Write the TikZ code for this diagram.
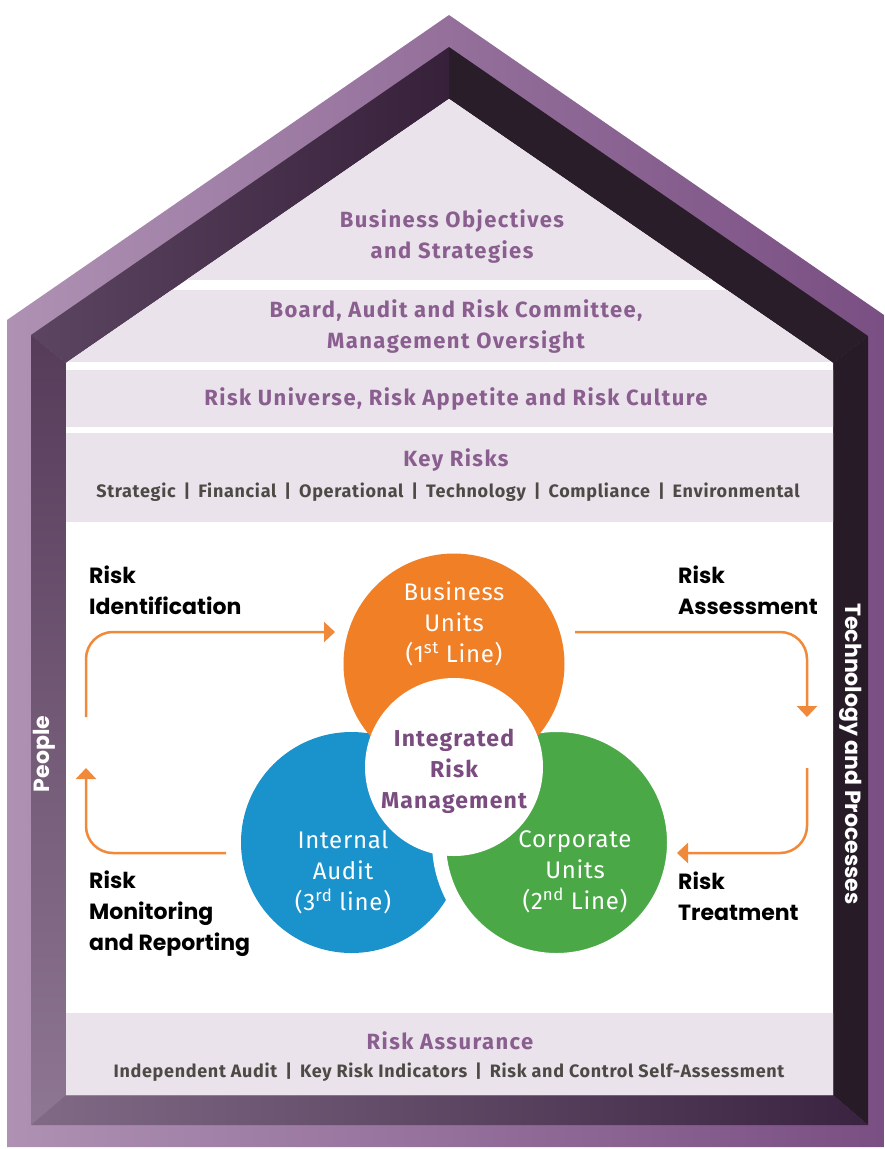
\documentclass[tikz,border=0pt]{standalone}
\usepackage{fontspec}
\setmainfont{Fira Sans}
\newfontfamily\hdrfont{Fira Sans}[LetterSpace=6.5]
\newfontfamily\itemfont{Fira Sans}[LetterSpace=3.8]
\newfontfamily\irmfont{Fira Sans}[LetterSpace=5]
\newfontfamily\unitfont{Fira Sans}[LetterSpace=3]
\newfontfamily\popfont{Poppins}
\usepackage{xcolor}
\usepackage{tikz}
\usetikzlibrary{arrows.meta}
\usetikzlibrary{calc}

\definecolor{bandlight}{HTML}{AE91B3}
\definecolor{banddark}{HTML}{7A4F83}
\definecolor{roofleftA}{HTML}{5C4560}
\definecolor{roofleftB}{HTML}{36203A}
\definecolor{roofright}{HTML}{2A1D2A}
\definecolor{wallleftA}{HTML}{573C5A}
\definecolor{wallleftB}{HTML}{8E7793}
\definecolor{wallright}{HTML}{261B27}
\definecolor{baseleft}{HTML}{806A86}
\definecolor{basemid}{HTML}{5E3E64}
\definecolor{baseright}{HTML}{3A2340}
\definecolor{panelbg}{HTML}{EAE3EC}
\definecolor{hdrtext}{HTML}{8A5F8F}
\definecolor{irmtext}{HTML}{7B4C80}
\definecolor{itemtext}{HTML}{4D4A45}
\definecolor{buorange}{HTML}{F07F26}
\definecolor{iablue}{HTML}{1A92CB}
\definecolor{cugreen}{HTML}{4BA847}
\definecolor{flowc}{HTML}{F1893A}

\begin{document}
\begin{tikzpicture}[x=1pt,y=-1pt,
    panel/.style={fill=panelbg},
    hdr/.style={text=hdrtext, align=center, font=\hdrfont\fontsize{22}{31}\selectfont\bfseries},
    items/.style={text=itemtext, font=\itemfont\fontsize{18}{20}\selectfont\bfseries},
    stage/.style={anchor=west, align=left, inner sep=0pt, text=black, font=\popfont\fontsize{22}{31}\selectfont\bfseries},
    unit/.style={circle, inner sep=0pt, outer sep=0pt, minimum size=221pt},
    unittext/.style={text=white, align=center, font=\unitfont\fontsize{24}{31}\selectfont},
    side/.style={text=white, font=\popfont\fontsize{22}{24}\selectfont\bfseries},
    flow/.style={draw=flowc, line width=2.5pt, rounded corners=27pt, -{Triangle[length=11pt,width=20pt]}}]
    \useasboundingbox (0,0) rectangle (884,1149);
    % house frame
    \coordinate (O1) at (7,1147);
    \coordinate (O2) at (7,320);
    \coordinate (O3) at (449,15);
    \coordinate (O4) at (884,315);
    \coordinate (O5) at (884,1147);
    \coordinate (M1) at (31,1125);
    \coordinate (M2) at (31,335);
    \coordinate (M3) at (449,47);
    \coordinate (M4) at (868,336);
    \coordinate (M5) at (868,1125);
    \coordinate (I1) at (66,1095);
    \coordinate (I2) at (66,363);
    \coordinate (I3) at (449,99);
    \coordinate (I4) at (833,363);
    \coordinate (I5) at (833,1095);
    \shade[left color=bandlight, right color=banddark] (O1) -- (O2) -- (O3) -- (O4) -- (O5) -- cycle;
    \shade[left color=roofleftA, right color=roofleftB] (M2) -- (M3) -- (I3) -- (I2) -- cycle;
    \fill[roofright] (M3) -- (M4) -- (I4) -- (I3) -- cycle;
    \shade[top color=wallleftA, bottom color=wallleftB] (M1) -- (M2) -- (I2) -- (I1) -- cycle;
    \fill[wallright] (M4) -- (M5) -- (I5) -- (I4) -- cycle;
    \shade[left color=baseleft, middle color=basemid, right color=baseright] (M1) -- (I1) -- (I5) -- (M5) -- cycle;
    \fill[white] (I1) -- (I2) -- (I3) -- (I4) -- (I5) -- cycle;
    \begin{scope}
      \clip (I1) -- (I2) -- (I3) -- (I4) -- (I5) -- cycle;
      \fill[panel] (60,90) rectangle (840,280);
      \fill[panel] (60,290) rectangle (840,362);
      \fill[panel] (60,370) rectangle (840,427);
      \fill[panel] (60,433) rectangle (840,522);
      \fill[panel] (60,1013) rectangle (840,1100);
    \end{scope}
    \node[hdr] (objectives) at (452,237) {Business Objectives\\and Strategies};
    \node[hdr] (oversight) at (456,327) {Board, Audit and Risk Committee,\\Management Oversight};
    \node[hdr] (universe) at (456,399) {Risk Universe, Risk Appetite and Risk Culture};
    \node[hdr] (keyrisks) at (456,460) {Key Risks};
    \node[items] (riskitems) at (448,492) {Strategic \,|\, Financial \,|\, Operational \,|\, Technology \,|\, Compliance \,|\, Environmental};
    \node[hdr] (assurance) at (450,1041) {Risk Assurance};
    \node[items] (assuranceitems) at (449,1072) {Independent Audit \,|\, Key Risk Indicators \,|\, Risk and Control Self-Assessment};
    \node[side, rotate=90] (people) at (44,754) {People};
    \node[side, rotate=-90] (techproc) at (851,754) {Technology and Processes};
    % three lines of defence
    \node[unit, fill=iablue] (audit) at (351.5,842.5) {};
    \node[unit, fill=cugreen, draw=white, line width=14pt, minimum size=235pt] (corporate) at (556.5,842.5) {};
    \node[unit, fill=buorange] (business) at (454,664) {};
    \node[circle, fill=white, inner sep=0pt, minimum size=178pt] (irm) at (454,767) {};
    \node[unittext] (businesstext) at (454,624) {Business\\Units\\(1\textsuperscript{st} Line)};
    \node[unittext] (audittext) at (343,872) {Internal\\Audit\\(3\textsuperscript{rd} line)};
    \node[unittext] (corporatetext) at (575,872) {Corporate\\Units\\(2\textsuperscript{nd} Line)};
    \node[text=irmtext, align=center, font=\irmfont\fontsize{23}{31}\selectfont\bfseries] (irmtext) at (454,771) {Integrated\\Risk\\Management};
    % risk cycle
    \node[stage] (identify) at (89,590) {Risk\\Identification};
    \node[stage] (assess) at (678,590) {Risk\\Assessment};
    \node[stage] (treat) at (678,896) {Risk\\Treatment};
    \node[stage] (monitor) at (89,914) {Risk\\Monitoring\\and Reporting};
    \coordinate (f1a) at (86,717);
    \coordinate (f1b) at (335,632);
    \coordinate (f2a) at (575,632);
    \coordinate (f2b) at (807,717);
    \coordinate (f3a) at (807,768);
    \coordinate (f3b) at (677,853);
    \coordinate (f4a) at (226,853);
    \coordinate (f4b) at (86,768);
    \draw[flow] (f1a) |- (f1b);
    \draw[flow] (f2a) -| (f2b);
    \draw[flow] (f3a) |- (f3b);
    \draw[flow] (f4a) -| (f4b);
  \end{tikzpicture}
\end{document}
